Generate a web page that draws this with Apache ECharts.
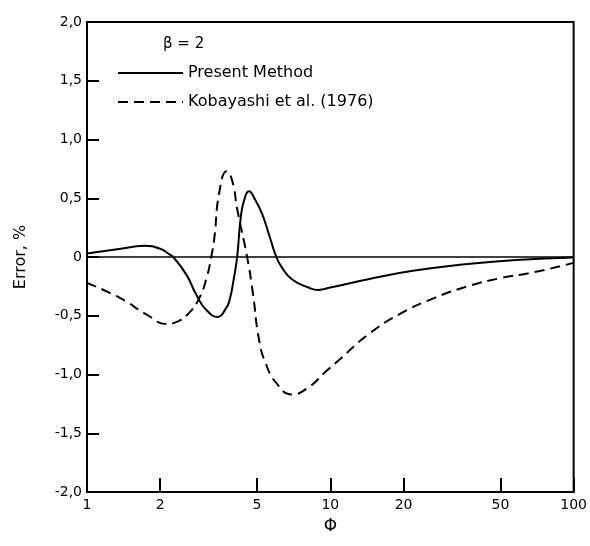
<!DOCTYPE html>
<html>
<head>
<meta charset="utf-8">
<script src="https://cdn.jsdelivr.net/npm/echarts@6/dist/echarts.min.js"></script>
<style>
html,body{margin:0;padding:0;background:#fff;}
#chart{width:590px;height:546px;}
</style>
</head>
<body>
<div id="chart"></div>
<script>
// Φ values (x) and error values (y, %)
var presentX = [1, 1.33, 1.73, 2.0, 2.19, 2.26, 2.56, 2.81, 3.09, 3.45, 3.72, 3.85, 4.0, 4.14, 4.28, 4.42, 4.63, 4.93, 5.24, 5.58, 6.0, 6.33, 6.95, 8.13, 8.93, 10, 14.3, 21.5, 36.6, 58, 100];
var presentY = [0.03, 0.065, 0.095, 0.07, 0.02, 0.0, -0.15, -0.32, -0.45, -0.51, -0.44, -0.37, -0.2, 0.0, 0.33, 0.48, 0.56, 0.48, 0.37, 0.20, 0.0, -0.09, -0.19, -0.26, -0.28, -0.26, -0.19, -0.12, -0.06, -0.025, -0.005];

var kobaX = [1, 1.37, 1.76, 2.12, 2.35, 2.56, 2.86, 3.09, 3.24, 3.34, 3.49, 3.75, 3.95, 4.15, 4.55, 4.8, 5.09, 5.41, 6.04, 6.95, 8.13, 9.51, 10.8, 14.3, 19.5, 26.7, 36.6, 50, 68.5, 100];
var kobaY = [-0.22, -0.35, -0.49, -0.57, -0.55, -0.50, -0.37, -0.19, 0.0, 0.17, 0.54, 0.73, 0.65, 0.40, 0.0, -0.30, -0.70, -0.90, -1.08, -1.17, -1.11, -0.98, -0.88, -0.66, -0.48, -0.35, -0.25, -0.18, -0.13, -0.05];

var seriesNames = ['Present Method', 'Kobayashi et al. (1976)'];
var annotation = 'β = 2';
var xTickValues = [1, 2, 5, 10, 20, 50, 100];
var yTickValues = [-2, -1.5, -1, -0.5, 0, 0.5, 1, 1.5, 2];
var yTickLabels = ['-2,0', '-1,5', '-1,0', '-0,5', '0', '0,5', '1,0', '1,5', '2,0'];
var xName = 'Φ';
var yName = 'Error, %';

function pairs(xs, ys) { return xs.map(function (x, i) { return [x, ys[i]]; }); }

var FONT = 'DejaVu Sans';
var chart = echarts.init(document.getElementById('chart'));
chart.setOption({
  animation: false,
  backgroundColor: '#fff',
  textStyle: { fontFamily: FONT, color: '#000' },
  title: {
    text: annotation, left: 158, top: 32,
    textStyle: { fontFamily: FONT, fontSize: 15, fontWeight: 'normal', color: '#000' }
  },
  legend: {
    orient: 'vertical', left: 112, top: 60,
    itemWidth: 65, itemHeight: 16, itemGap: 13,
    itemStyle: { opacity: 0 },
    textStyle: { fontFamily: FONT, fontSize: 16, color: '#000', lineHeight: 16 },
    data: seriesNames
  },
  grid: { left: 87, right: 12, top: 22, bottom: 54, show: true, borderColor: '#000', borderWidth: 2, backgroundColor: 'transparent' },
  xAxis: {
    type: 'log', logBase: 10, min: 1, max: 100,
    name: xName, nameLocation: 'middle', nameGap: 26,
    nameTextStyle: { fontFamily: FONT, fontSize: 17, color: '#000' },
    axisLine: { show: true, onZero: false, lineStyle: { color: '#000', width: 2 } },
    axisTick: { show: true, inside: true, length: 14, lineStyle: { color: '#000', width: 2 }, customValues: xTickValues },
    axisLabel: { color: '#000', fontFamily: FONT, fontSize: 14, margin: 6, customValues: xTickValues, formatter: function (v) { return String(Math.round(v)); } },
    minorTick: { show: false },
    splitLine: { show: false }
  },
  yAxis: {
    type: 'value', min: -2, max: 2, interval: 0.5,
    name: yName, nameLocation: 'middle', nameGap: 58,
    nameTextStyle: { fontFamily: FONT, fontSize: 16, color: '#000' },
    axisLine: { show: true, onZero: false, lineStyle: { color: '#000', width: 2 } },
    axisTick: { show: true, inside: true, length: 12, lineStyle: { color: '#000', width: 2 } },
    axisLabel: {
      color: '#000', fontFamily: FONT, fontSize: 14, margin: 5,
      formatter: function (v) {
        for (var i = 0; i < yTickValues.length; i++) { if (Math.abs(yTickValues[i] - v) < 1e-9) return yTickLabels[i]; }
        return '';
      }
    },
    splitLine: { show: false }
  },
  series: [
    {
      name: seriesNames[0], type: 'line', data: pairs(presentX, presentY),
      symbol: 'none', smooth: 0.5,
      lineStyle: { color: '#000', width: 2, type: 'solid' },
      itemStyle: { color: '#000' },
      markLine: {
        silent: true, symbol: 'none', label: { show: false },
        lineStyle: { color: '#000', width: 1.5, type: 'solid' },
        data: [{ yAxis: 0 }]
      }
    },
    {
      name: seriesNames[1], type: 'line', data: pairs(kobaX, kobaY),
      symbol: 'none', smooth: 0.5,
      lineStyle: { color: '#000', width: 2, type: [10, 6] },
      itemStyle: { color: '#000' }
    }
  ]
});
</script>
</body>
</html>
